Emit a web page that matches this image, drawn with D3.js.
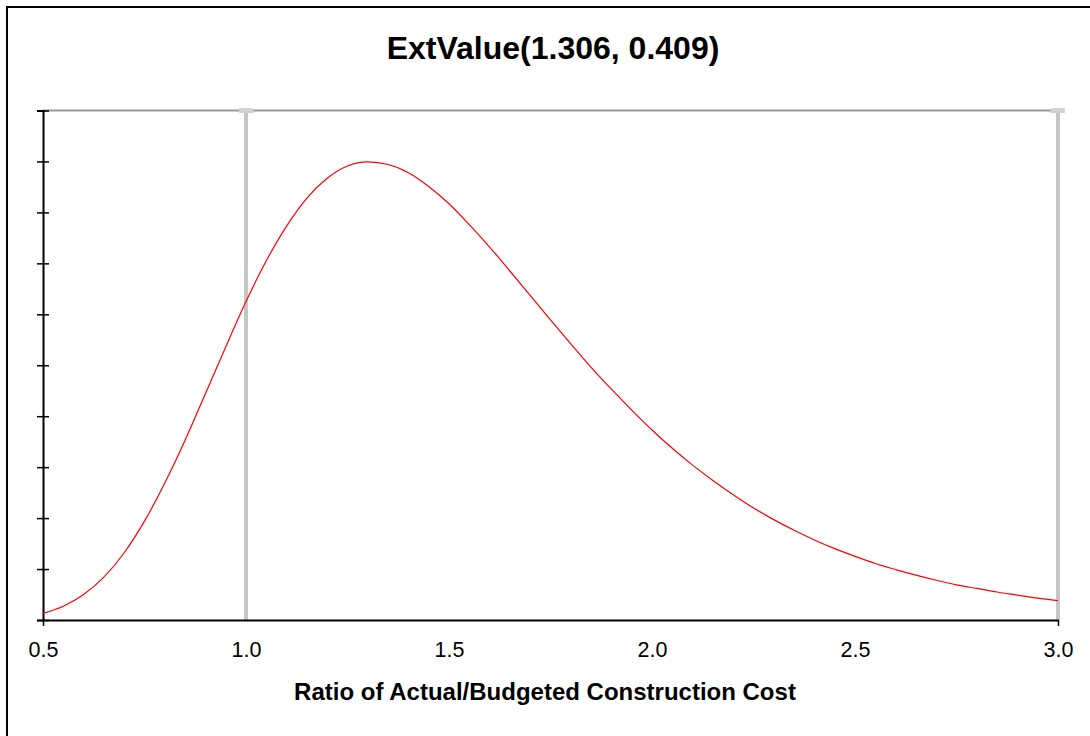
<!DOCTYPE html>
<html>
<head>
<meta charset="utf-8">
<script src="https://cdn.jsdelivr.net/npm/d3@7"></script>
<style>
  body { margin: 0; background: #fff; }
  svg { display: block; font-family: "Liberation Sans", Arial, sans-serif; }
</style>
</head>
<body>
<svg id="chart" width="1090" height="736"></svg>
<script>
// curve, x in 0.05 steps
var xs = [0.50, 0.55, 0.60, 0.65, 0.70, 0.75, 0.80, 0.85, 0.90, 0.95,
          1.00, 1.05, 1.10, 1.15, 1.20, 1.25, 1.30, 1.35, 1.40, 1.45,
          1.50, 1.55, 1.60, 1.65, 1.70, 1.75, 1.80, 1.85, 1.90, 1.95,
          2.00, 2.05, 2.10, 2.15, 2.20, 2.25, 2.30, 2.35, 2.40, 2.45,
          2.50, 2.55, 2.60, 2.65, 2.70, 2.75, 2.80, 2.85, 2.90, 2.95, 3.00];
var density = [0.013, 0.027, 0.050, 0.084, 0.132, 0.194, 0.269, 0.353, 0.444, 0.536,
               0.625, 0.705, 0.773, 0.828, 0.867, 0.891, 0.899, 0.894, 0.878, 0.851,
               0.817, 0.776, 0.732, 0.685, 0.637, 0.589, 0.542, 0.496, 0.453, 0.412,
               0.373, 0.337, 0.304, 0.274, 0.246, 0.220, 0.197, 0.176, 0.157, 0.140,
               0.125, 0.111, 0.099, 0.088, 0.078, 0.069, 0.062, 0.055, 0.049, 0.043, 0.038];
var xTicks = [0.5, 1.0, 1.5, 2.0, 2.5, 3.0];
var yTicks = [0, 0.1, 0.2, 0.3, 0.4, 0.5, 0.6, 0.7, 0.8, 0.9, 1.0];
var markerLines = [1.0, 3.0];
var title = 'ExtValue(1.306, 0.409)';
var xTitle = 'Ratio of Actual/Budgeted Construction Cost';

var svg = d3.select('#chart');
var plot = {left: 43, right: 1058, top: 110.5, bottom: 620};

// outer frame (only top and left are in view)
svg.append('rect')
  .attr('x', 7).attr('y', 7)
  .attr('width', 1100).attr('height', 760)
  .attr('fill', 'none').attr('stroke', '#000').attr('stroke-width', 2);

var x = d3.scaleLinear().domain([0.5, 3.0]).range([plot.left, plot.right]);
var y = d3.scaleLinear().domain([0, 1.0]).range([plot.bottom, plot.top]);

// top border of plot
svg.append('line')
  .attr('x1', plot.left).attr('x2', plot.right)
  .attr('y1', plot.top).attr('y2', plot.top)
  .attr('stroke', '#999').attr('stroke-width', 2);

// grey marker lines
markerLines.forEach(function(v) {
  svg.append('line')
    .attr('x1', x(v)).attr('x2', x(v))
    .attr('y1', plot.top).attr('y2', plot.bottom)
    .attr('stroke', '#c6c6c6').attr('stroke-width', 4);
  svg.append('rect')
    .attr('x', x(v) - 7).attr('y', plot.top - 2.5)
    .attr('width', 14).attr('height', 5)
    .attr('fill', '#d2d2d2');
});

// y axis: crossing ticks, no labels
var yAxis = svg.append('g')
  .attr('transform', `translate(${plot.left},0)`)
  .call(d3.axisLeft(y).tickValues(yTicks).tickSize(6).tickFormat(''));
yAxis.select('.domain').attr('stroke-width', 2);
yAxis.selectAll('.tick line').attr('x1', 6).attr('stroke-width', 1.5);

// x axis
var xAxis = svg.append('g')
  .attr('transform', `translate(0,${plot.bottom})`)
  .call(d3.axisBottom(x).tickValues(xTicks).tickSize(0).tickPadding(22)
    .tickFormat(d3.format('.1f')));
xAxis.select('.domain').attr('stroke-width', 2);
xAxis.selectAll('.tick text')
  .attr('font-family', '"Liberation Sans", Arial, sans-serif')
  .attr('font-size', 21.5).attr('fill', '#000');
xAxis.selectAll('.tick')
  .filter(function(d) { return d === 0.5 || d === 3.0; })
  .append('line').attr('y1', 0).attr('y2', 6)
  .attr('stroke', '#000').attr('stroke-width', 1.5);

// curve
var pts = xs.map(function(v, i) { return [v, density[i]]; });
svg.append('path')
  .datum(pts)
  .attr('fill', 'none')
  .attr('stroke', '#ff0000')
  .attr('stroke-width', 1.2)
  .attr('d', d3.line()
    .x(function(p) { return x(p[0]); })
    .y(function(p) { return y(p[1]); })
    .curve(d3.curveMonotoneX));

// titles
svg.append('text')
  .attr('x', 553).attr('y', 59)
  .attr('text-anchor', 'middle')
  .attr('font-size', 32).attr('font-weight', 'bold')
  .text(title);

svg.append('text')
  .attr('x', 545).attr('y', 700)
  .attr('text-anchor', 'middle')
  .attr('font-size', 24).attr('font-weight', 'bold')
  .text(xTitle);
</script>
</body>
</html>
